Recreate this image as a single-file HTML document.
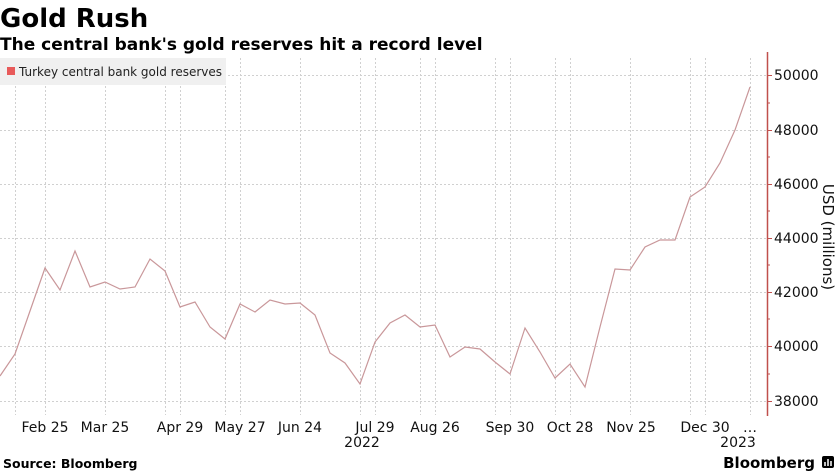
<!DOCTYPE html>
<html><head><style>
body{margin:0;width:840px;height:473px;background:#fff;overflow:hidden;font-family:"Liberation Sans","DejaVu Sans",sans-serif}
</style></head><body>
<svg width="840" height="473" xmlns="http://www.w3.org/2000/svg" style="position:absolute;left:0;top:0">
<text x="0" y="27" font-size="26" font-weight="bold" font-family="DejaVu Sans,sans-serif" fill="#000">Gold Rush</text>
<text x="0" y="50" font-size="17" font-weight="bold" font-family="DejaVu Sans,sans-serif" fill="#000">The central bank's gold reserves hit a record level</text>
<g stroke="#d0d0d0" stroke-dasharray="2,2" stroke-width="1">
<path d="M0 75.5H767M0 130.5H767M0 184.5H767M0 238.5H767M0 292.5H767M0 346.5H767M0 401.5H767"/>
<path d="M15.5 58V415M45.5 58V415M105.5 58V415M165.5 58V415M180.5 58V415M225.5 58V415M240.5 58V415M300.5 58V415M360.5 58V415M375.5 58V415M420.5 58V415M435.5 58V415M495.5 58V415M510.5 58V415M555.5 58V415M570.5 58V415M630.5 58V415M690.5 58V415M705.5 58V415M750.5 58V415"/>
</g>
<rect x="0" y="58" width="226" height="27" fill="#f0f0f0"/>
<rect x="7" y="67" width="8" height="8" fill="#e85a5a"/>
<text x="19" y="76" font-size="12" fill="#222" font-family="DejaVu Sans,sans-serif">Turkey central bank gold reserves</text>
<polyline fill="none" stroke="#c9979a" stroke-width="1.2" points="0,376 15,354 30,311 45,268 60,290 75,251 90,287 105,282 120,289 135,287 150,259 165,271 180,307 195,302 210,327 225,339 240,304 255,312 270,300 285,304 300,303 315,315 330,353 345,363 360,384 375,342 390,323 405,315 420,327 435,325 450,357 465,347 480,349 495,362 510,374 525,328 540,352 555,378 570,364 585,387 600,327 615,269 630,270 645,247 660,240 675,240 690,197 705,187 720,163 735,130 750,87"/>
<line x1="767.5" y1="52" x2="767.5" y2="416" stroke="#c0504d" stroke-width="1.5"/>
<g stroke="#c0504d" stroke-width="1">
<path d="M767 75.5h5M767 130.5h5M767 184.5h5M767 238.5h5M767 292.5h5M767 346.5h5M767 401.5h5M767 103h3M767 157h3M767 211h3M767 265h3M767 319h3M767 374h3"/>
</g>
<g font-size="14" fill="#111" font-family="DejaVu Sans,sans-serif">
<text x="774" y="80">50000</text><text x="774" y="135">48000</text><text x="774" y="189">46000</text><text x="774" y="243">44000</text><text x="774" y="297">42000</text><text x="774" y="351">40000</text><text x="774" y="406">38000</text>
</g>
<text transform="translate(823,237) rotate(90)" text-anchor="middle" font-size="15" fill="#111" font-family="DejaVu Sans,sans-serif">USD (millions)</text>
<g font-size="14" fill="#111" text-anchor="middle" font-family="DejaVu Sans,sans-serif">
<text x="45" y="432">Feb 25</text><text x="105" y="432">Mar 25</text><text x="180" y="432">Apr 29</text><text x="240" y="432">May 27</text><text x="300" y="432">Jun 24</text><text x="375" y="432">Jul 29</text><text x="435" y="432">Aug 26</text><text x="510" y="432">Sep 30</text><text x="570" y="432">Oct 28</text><text x="631" y="432">Nov 25</text><text x="705" y="432">Dec 30</text><text x="750" y="432">…</text>
<text x="362" y="447">2022</text><text x="738" y="447">2023</text>
</g>
<text x="3" y="468" font-size="12.5" font-weight="bold" fill="#000" font-family="DejaVu Sans,sans-serif">Source: Bloomberg</text>
<text x="815" y="468" text-anchor="end" font-size="15" font-weight="bold" fill="#000" font-family="DejaVu Sans,sans-serif">Bloomberg</text>
<rect x="822" y="456" width="12" height="12" rx="2" fill="#000"/>
<path d="M825 466v-4M828 466v-7M831 466v-5" stroke="#fff" stroke-width="1.5"/>
</svg>
</body></html>
